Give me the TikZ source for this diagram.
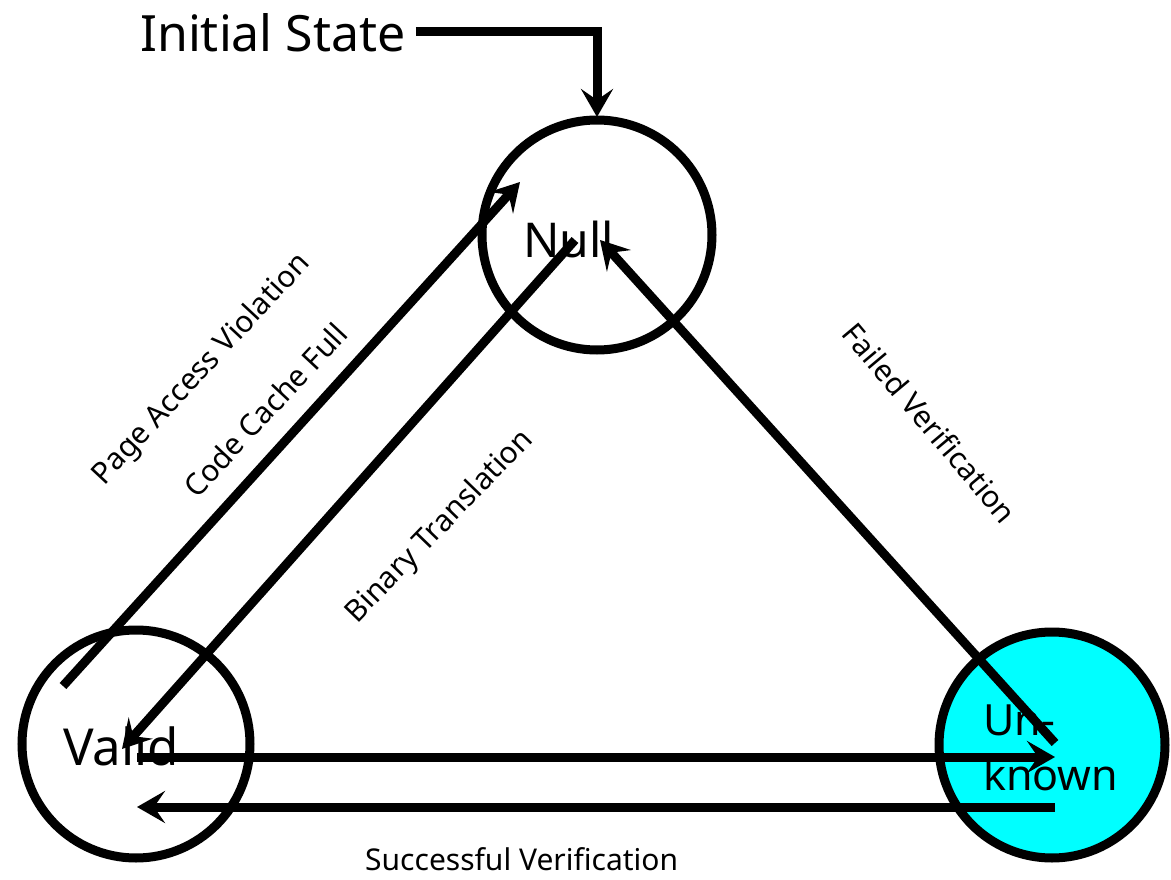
\documentclass[tikz,border=0pt]{standalone}
\usepackage{fontspec}
\setmainfont{Noto Sans}
\usetikzlibrary{arrows.meta}
\definecolor{unkfill}{HTML}{00FFFF}
\tikzset{
  state/.style={circle, draw=black, line width=9pt, inner sep=0pt},
  trans/.style={draw=black, line width=9pt, line cap=butt,
    -{Stealth[length=28pt, width=32pt, inset=11pt]}},
  biglabel/.style={inner sep=0pt},
  smalllabel/.style={font=\fontsize{30}{35}\selectfont, inner sep=0pt},
}
\begin{document}
\begin{tikzpicture}[x=1pt, y=-1pt]
  \useasboundingbox (0,0) rectangle (1171,880);

  % states
  \node[state, fill=white, minimum size=230pt] (null) at (597,235) {};
  \node[state, fill=white, minimum size=228pt] (valid) at (136,744) {};
  \node[state, fill=unkfill, minimum size=226pt] (unknown) at (1052,745) {};

  % state names
  \node[biglabel, font=\fontsize{48}{56}\selectfont, anchor=base west] (tnull) at (523,257) {Null};
  \node[biglabel, font=\fontsize{51}{58}\selectfont, anchor=base west] (tvalid) at (63,765) {Valid};
  \node[biglabel, font=\fontsize{43}{50}\selectfont, anchor=base west] (tun) at (983,735) {Un-};
  \node[biglabel, font=\fontsize{43}{50}\selectfont, anchor=base west] (tknown) at (983,790) {known};
  \node[biglabel, font=\fontsize{50}{58}\selectfont, anchor=base west] (init) at (140,52) {Initial State};

  % transition labels
  \node[smalllabel, rotate=47] (lpav) at (202,370) {Page Access Violation};
  \node[smalllabel, rotate=47] (lccf) at (265,410) {Code Cache Full};
  \node[smalllabel, rotate=46] (lbt) at (440,527) {Binary Translation};
  \node[smalllabel, rotate=-50] (lfv) at (930,423) {Failed Verification};
  \node[smalllabel, anchor=base west] (lsv) at (365,870) {Successful Verification};

  % transitions
  \draw[trans] ([xshift=10pt]init.east |- 0,32) -| ([yshift=118pt]null.center);
  \draw[trans] ([shift={(-73pt,58pt)}]valid.center) -- ([shift={(-77pt,53pt)}]null.center);
  \draw[trans] ([shift={(-22pt,-5pt)}]null.center) -- ([shift={(-14pt,-5pt)}]valid.center);
  \draw[trans] ([shift={(3pt,2pt)}]unknown.center) -- ([shift={(3pt,-5pt)}]null.center);
  \draw[trans] ([shift={(1pt,-13pt)}]valid.center) -- ([shift={(3pt,-12pt)}]unknown.center);
  \draw[trans] ([shift={(3pt,-62pt)}]unknown.center) -- ([shift={(1pt,-63pt)}]valid.center);
\end{tikzpicture}
\end{document}
